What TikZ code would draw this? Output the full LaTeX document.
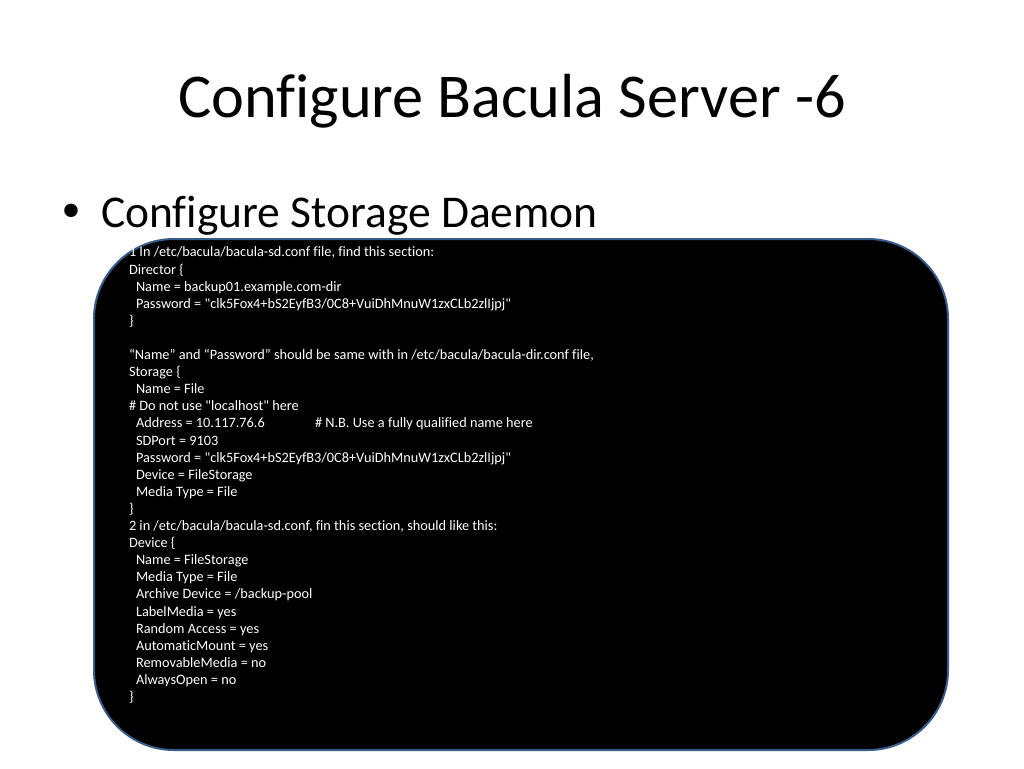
\documentclass[tikz,border=0pt]{standalone}
\usepackage{fontspec}
\setmainfont[Ligatures=NoCommon]{Carlito}
\definecolor{borderblue}{HTML}{385D8A}
\tikzstyle{every node}=[inner sep=0pt,outer sep=0pt]
\tikzstyle{slidetitle}=[anchor=base,font=\fontsize{62.3}{70}\selectfont]
\tikzstyle{bullettext}=[anchor=base west,font=\fontsize{45.5}{52}\selectfont]
\tikzstyle{bulletmark}=[anchor=base west,font=\fontsize{38}{42}\selectfont]
\tikzstyle{codebox}=[draw=borderblue,fill=black,line width=2pt,rounded corners=80pt]
\tikzstyle{codetext}=[anchor=north west,text=white,align=left,font=\fontsize{14.3}{17.1}\selectfont]
\newcommand{\ind}{\hspace*{7pt}}
\newcommand{\dq}{\textquotedbl}

\begin{document}
\begin{tikzpicture}[x=1pt,y=-1pt]
  \useasboundingbox[fill=white] (0,0) rectangle (1024,768);
  \node [slidetitle] (title) at (512,117) {Configure Bacula Server -6};
  \node [bulletmark] (bullet) at (61.5,221.5) {\textbullet};
  \node [bullettext] (item) at (101,227) {Configure Storage Daemon};
  \draw [codebox] (94,239) rectangle (948,750);
  \node [codetext] (code) at (129,247) {%
    1 In /etc/bacula/bacula-sd.conf file, find this section:\\
    Director \{\\
    \ind Name = backup01.example.com-dir\\
    \ind Password = \dq clk5Fox4+bS2EyfB3/0C8+VuiDhMnuW1zxCLb2zlIjpj\dq\\
    \}\\
    \mbox{}\\
    “Name” and “Password” should be same with in /etc/bacula/bacula-dir.conf file,\\
    Storage \{\\
    \ind Name = File\\
    \# Do not use \dq localhost\dq{} here\\
    \ind\makebox[179pt][l]{Address = 10.117.76.6}\# N.B. Use a fully qualified name here\\
    \ind SDPort = 9103\\
    \ind Password = \dq clk5Fox4+bS2EyfB3/0C8+VuiDhMnuW1zxCLb2zlIjpj\dq\\
    \ind Device = FileStorage\\
    \ind Media Type = File\\
    \}\\
    2 in /etc/bacula/bacula-sd.conf, fin this section, should like this:\\
    Device \{\\
    \ind Name = FileStorage\\
    \ind Media Type = File\\
    \ind Archive Device = /backup-pool\\
    \ind LabelMedia = yes\\
    \ind Random Access = yes\\
    \ind AutomaticMount = yes\\
    \ind RemovableMedia = no\\
    \ind AlwaysOpen = no\\
    \}};
\end{tikzpicture}
\end{document}
